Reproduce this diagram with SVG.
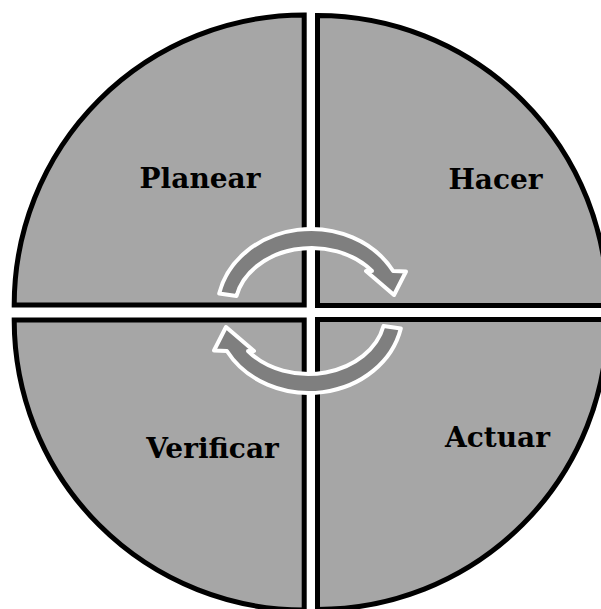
<svg xmlns="http://www.w3.org/2000/svg" width="601" height="609" viewBox="0 0 601 609">
<style>
.q{fill:#a6a6a6;stroke:#000;stroke-width:5;stroke-linejoin:miter}
.lbl{font-family:"DejaVu Serif","Liberation Serif",serif;font-weight:bold;font-size:28px;fill:#000;text-anchor:middle}
.arr{fill:#7f7f7f;stroke:#fff;stroke-width:4;stroke-linejoin:round}
</style>
<rect width="601" height="609" fill="#fff"/>
<g id="planear">
<path class="q" d="M304.2,305 L304.2,15 A290,290 0 0 0 14.2,305 Z"/>
<text class="lbl" x="200" y="188">Planear</text>
</g>
<g id="hacer">
<path class="q" d="M317.5,305.5 L317.5,15.5 A290,290 0 0 1 607.5,305.5 Z"/>
<text class="lbl" x="495.5" y="189">Hacer</text>
</g>
<g id="verificar">
<path class="q" d="M304.2,320 L14.2,320 A290,290 0 0 0 304.2,610 Z"/>
<text class="lbl" x="212.5" y="458">Verificar</text>
</g>
<g id="actuar">
<path class="q" d="M317.5,319.5 L317.5,609.5 A290,290 0 0 0 607.5,319.5 Z"/>
<text class="lbl" x="497.5" y="447">Actuar</text>
</g>
<g id="connectors">
<path id="arrowTop" class="arr" d="M219.2,293.5 A94,82 0 0 1 393.1,271 L406,271.5 L394,295 L366,271 L372,271 A77,61 0 0 0 236.5,296 Z"/>
<path id="arrowBottom" class="arr" transform="rotate(180 310 311)" d="M219.2,293.5 A94,82 0 0 1 393.1,271 L406,271.5 L394,295 L366,271 L372,271 A77,61 0 0 0 236.5,296 Z"/>
</g>
</svg>
